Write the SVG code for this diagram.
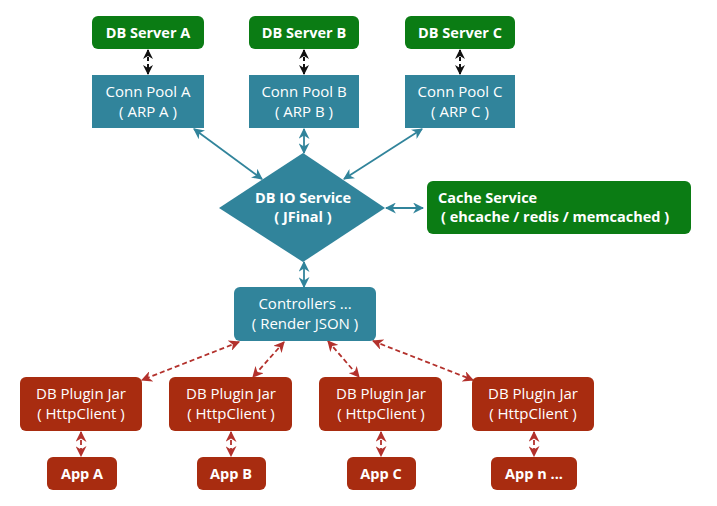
<svg xmlns="http://www.w3.org/2000/svg" width="717" height="506" viewBox="0 0 717 506">
<defs>
<style>
text{font-family:"Open Sans","Noto Sans","Liberation Sans",sans-serif;font-size:15px;fill:#fff;text-anchor:middle}
.b{font-weight:bold;font-size:14.5px}
.g{fill:#0b7c14}
.t{fill:#31849b}
.r{fill:#a82c10}
.lt{stroke:#31849b;stroke-width:1.8;fill:none}
.lk{stroke:#111;stroke-width:2;fill:none;stroke-dasharray:4 3}
.lr{stroke:#b3312c;stroke-width:1.8;fill:none;stroke-dasharray:5 3}
</style>
<marker id="mt" viewBox="0 0 10 10" refX="9" refY="5" markerWidth="11" markerHeight="11" markerUnits="userSpaceOnUse" orient="auto-start-reverse"><path d="M0,0 L10,5 L0,10 L3,5 z" fill="#31849b"/></marker>
<marker id="mk" viewBox="0 0 10 10" refX="9" refY="5" markerWidth="10" markerHeight="10" markerUnits="userSpaceOnUse" orient="auto-start-reverse"><path d="M0,0 L10,5 L0,10 L3,5 z" fill="#111"/></marker>
<marker id="mr" viewBox="0 0 10 10" refX="9" refY="5" markerWidth="11" markerHeight="11" markerUnits="userSpaceOnUse" orient="auto-start-reverse"><path d="M0,0 L10,5 L0,10 L3,5 z" fill="#b3312c"/></marker>
</defs>
<rect width="717" height="506" fill="#fff"/>
<g id="connectors">
<path class="lk" d="M148,50 V74" marker-start="url(#mk)" marker-end="url(#mk)"/>
<path class="lk" d="M304,50 V74" marker-start="url(#mk)" marker-end="url(#mk)"/>
<path class="lk" d="M460,50 V74" marker-start="url(#mk)" marker-end="url(#mk)"/>
<path class="lt" d="M194,129 L262,179" marker-start="url(#mt)" marker-end="url(#mt)"/>
<path class="lt" d="M304,129 V153" marker-start="url(#mt)" marker-end="url(#mt)"/>
<path class="lt" d="M422,129 L344,179" marker-start="url(#mt)" marker-end="url(#mt)"/>
<path class="lt" d="M386,208 H423" marker-start="url(#mt)" marker-end="url(#mt)"/>
<path class="lt" d="M304,262 V287" marker-start="url(#mt)" marker-end="url(#mt)"/>
<path class="lr" d="M239,342 L142,380" marker-start="url(#mr)" marker-end="url(#mr)"/>
<path class="lr" d="M284,342 L253,377" marker-start="url(#mr)" marker-end="url(#mr)"/>
<path class="lr" d="M328,341 L359,377" marker-start="url(#mr)" marker-end="url(#mr)"/>
<path class="lr" d="M373,341 L473,380" marker-start="url(#mr)" marker-end="url(#mr)"/>
<path class="lr" d="M81,432 V456" marker-start="url(#mr)" marker-end="url(#mr)"/>
<path class="lr" d="M231,432 V456" marker-start="url(#mr)" marker-end="url(#mr)"/>
<path class="lr" d="M381,432 V456" marker-start="url(#mr)" marker-end="url(#mr)"/>
<path class="lr" d="M534,432 V456" marker-start="url(#mr)" marker-end="url(#mr)"/>
</g>
<g id="dbServerA"><rect class="g" x="92" y="16" width="112" height="33" rx="6"/><text class="b" x="148" y="37.5">DB Server A</text></g>
<g id="dbServerB"><rect class="g" x="249" y="16" width="110" height="33" rx="6"/><text class="b" x="304" y="37.5">DB Server B</text></g>
<g id="dbServerC"><rect class="g" x="405" y="16" width="110" height="33" rx="6"/><text class="b" x="460" y="37.5">DB Server C</text></g>
<g id="connPoolA"><rect class="t" x="92" y="75" width="112" height="53"/><text x="148" y="97">Conn Pool A</text><text x="148" y="117">( ARP A )</text></g>
<g id="connPoolB"><rect class="t" x="249" y="75" width="110" height="53"/><text x="304" y="97">Conn Pool B</text><text x="304" y="117">( ARP B )</text></g>
<g id="connPoolC"><rect class="t" x="405" y="75" width="110" height="53"/><text x="460" y="97">Conn Pool C</text><text x="460" y="117">( ARP C )</text></g>
<g id="dbIoService"><path class="t" d="M303,153 L385,208 L303,262 L219,208 z"/><text class="b" x="303" y="203">DB IO Service</text><text class="b" x="303" y="222">( JFinal )</text></g>
<g id="cacheService"><rect class="g" x="427" y="181" width="264" height="53" rx="6"/><text class="b" x="438" y="203" style="text-anchor:start">Cache Service</text><text class="b" x="441" y="222" style="text-anchor:start">( ehcache / redis / memcached )</text></g>
<g id="controllers"><rect class="t" x="234" y="287" width="142" height="54" rx="6"/><text x="305" y="309">Controllers ...</text><text x="305" y="329">( Render JSON )</text></g>
<g id="pluginJar1"><rect class="r" x="20" y="377" width="122" height="54" rx="6"/><text x="81" y="399">DB Plugin Jar</text><text x="81" y="419">( HttpClient )</text></g>
<g id="pluginJar2"><rect class="r" x="169" y="377" width="123" height="54" rx="6"/><text x="231" y="399">DB Plugin Jar</text><text x="231" y="419">( HttpClient )</text></g>
<g id="pluginJar3"><rect class="r" x="319" y="377" width="123" height="54" rx="6"/><text x="381" y="399">DB Plugin Jar</text><text x="381" y="419">( HttpClient )</text></g>
<g id="pluginJar4"><rect class="r" x="472" y="377" width="122" height="54" rx="6"/><text x="533" y="399">DB Plugin Jar</text><text x="533" y="419">( HttpClient )</text></g>
<g id="appA"><rect class="r" x="47" y="457" width="70" height="33" rx="6"/><text class="b" x="82" y="479">App A</text></g>
<g id="appB"><rect class="r" x="197" y="457" width="69" height="33" rx="6"/><text class="b" x="231" y="479">App B</text></g>
<g id="appC"><rect class="r" x="347" y="457" width="69" height="33" rx="6"/><text class="b" x="381" y="479">App C</text></g>
<g id="appN"><rect class="r" x="491" y="457" width="86" height="33" rx="6"/><text class="b" x="534" y="479">App n ...</text></g>
</svg>
